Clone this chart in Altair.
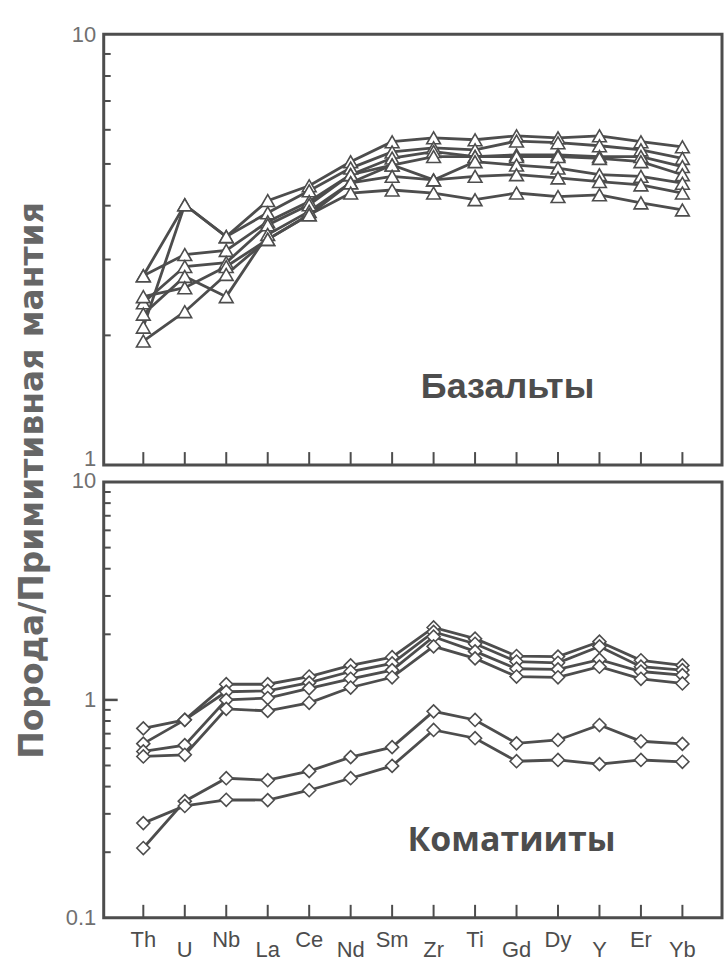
import altair as alt
import pandas as pd

# Trace elements along the x axis (primitive-mantle normalised spider diagram)
elements = ["Th", "U", "Nb", "La", "Ce", "Nd", "Sm", "Zr", "Ti", "Gd", "Dy", "Y", "Er", "Yb"]
low_labels = elements[1::2]  # every second label sits lower

# Basalts (upper panel)
basalt_a = [2.75, 4.02, 3.39, 4.11, 4.45, 5.06, 5.63, 5.75, 5.69, 5.81, 5.75, 5.81, 5.63, 5.48]
basalt_b = [2.09, 4.02, 3.39, 3.85, 4.33, 4.89, 5.33, 5.45, 5.39, 5.65, 5.60, 5.51, 5.39, 5.15]
basalt_c = [2.75, 3.08, 3.15, 3.67, 4.09, 4.72, 5.16, 5.34, 5.20, 5.25, 5.25, 5.20, 5.20, 4.93]
basalt_d = [2.38, 2.89, 2.95, 3.61, 4.02, 4.72, 4.97, 5.20, 5.20, 5.20, 5.20, 5.15, 5.06, 4.72]
basalt_e = [2.24, 2.74, 2.46, 3.43, 3.88, 4.52, 4.97, 4.59, 5.06, 4.97, 4.89, 4.72, 4.68, 4.51]
basalt_f = [2.46, 2.58, 2.89, 3.34, 3.81, 4.52, 4.68, 4.59, 4.68, 4.72, 4.64, 4.55, 4.47, 4.28]
basalt_g = [1.94, 2.27, 2.77, 3.34, 3.81, 4.28, 4.35, 4.28, 4.13, 4.28, 4.20, 4.24, 4.06, 3.91]

# Komatiites (lower panel)
komat_1 = [0.74, 0.81, 1.18, 1.18, 1.28, 1.44, 1.57, 2.15, 1.91, 1.59, 1.58, 1.85, 1.52, 1.44]
komat_2 = [0.63, 0.81, 1.09, 1.10, 1.20, 1.35, 1.47, 2.05, 1.81, 1.50, 1.48, 1.76, 1.42, 1.37]
komat_3 = [0.58, 0.62, 1.00, 1.02, 1.13, 1.25, 1.37, 1.95, 1.67, 1.39, 1.38, 1.53, 1.35, 1.30]
komat_4 = [0.55, 0.56, 0.91, 0.89, 0.97, 1.14, 1.27, 1.76, 1.55, 1.28, 1.27, 1.42, 1.25, 1.19]
komat_5 = [0.209, 0.343, 0.437, 0.428, 0.471, 0.546, 0.607, 0.886, 0.809, 0.632, 0.655, 0.767, 0.646, 0.628]
komat_6 = [0.272, 0.326, 0.348, 0.347, 0.385, 0.437, 0.498, 0.728, 0.667, 0.523, 0.530, 0.507, 0.530, 0.520]

basalts = {"a": basalt_a, "b": basalt_b, "c": basalt_c, "d": basalt_d,
           "e": basalt_e, "f": basalt_f, "g": basalt_g}
komatiites = {"1": komat_1, "2": komat_2, "3": komat_3,
              "4": komat_4, "5": komat_5, "6": komat_6}

top_minor = [2, 3, 4, 5, 6, 7, 8, 9]
bottom_minor = [0.2, 0.3, 0.4, 0.5, 0.6, 0.7, 0.8, 0.9, 2, 3, 4, 5, 6, 7, 8, 9]
bottom_major = [1]

W = 620
H_TOP = 432
H_BOT = 437
INK = "#4d4d4d"
LABEL = "#707070"


def long_table(series):
    rows = []
    for name, vals in series.items():
        for i, (el, v) in enumerate(zip(elements, vals)):
            rows.append({"sample": name, "el": el, "idx": i, "v": v})
    return pd.DataFrame(rows)


x_scale = alt.Scale(domain=elements, padding=0.91)


def panel(series, domain, shape, size, y_values, label_shift, minor, major, label,
          label_font, label_size, label_x, label_y, height, show_x, y_title):
    df = long_table(series)
    y_axis_kw = dict(values=y_values, format="~g", ticks=False, domain=False, grid=False,
                     labelFont="Liberation Sans", labelFontSize=22, labelColor=LABEL,
                     labelPadding=8, labelOverlap=False, labelOffset=label_shift)
    if y_title:
        y_axis = alt.Axis(title=y_title, titleAngle=270, titleX=-71, titleY=447,
                          titleAlign="center", titleBaseline="middle",
                          titleFont="DejaVu Sans", titleFontSize=33,
                          titleFontWeight="bold", titleColor="#666666", **y_axis_kw)
    else:
        y_axis = alt.Axis(title=None, **y_axis_kw)
    y_scale = alt.Scale(type="log", domain=domain)

    if show_x:
        x_axis = alt.Axis(title=None, ticks=False, domain=False, grid=False, labelAngle=0,
                          labelFont="Liberation Sans", labelFontSize=22, labelColor=INK,
                          labelPadding={"condition": {
                              "test": "indexof(" + str(low_labels) + ", datum.value) >= 0",
                              "value": 22}, "value": 12})
    else:
        x_axis = None

    x_enc = alt.X("el:N", sort=elements, scale=x_scale, axis=x_axis)
    y_enc = alt.Y("v:Q", scale=y_scale, axis=y_axis)

    lines = alt.Chart(df).mark_line(color=INK, strokeWidth=2.8).encode(
        x=x_enc, y=y_enc, detail="sample:N", order="idx:Q")
    points = alt.Chart(df).mark_point(shape=shape, size=size, filled=True, fill="white",
                                      stroke=INK, strokeWidth=1.6, opacity=1).encode(
        x=x_enc, y=y_enc)

    x_ticks = alt.Chart(pd.DataFrame({"el": elements})).mark_rule(
        color=INK, strokeWidth=2).encode(
        x=alt.X("el:N", sort=elements, scale=x_scale, axis=x_axis),
        y=alt.value(height), y2=alt.value(height - 13))
    minor_ticks = alt.Chart(pd.DataFrame({"v": minor})).mark_rule(
        color=INK, strokeWidth=2).encode(
        y=alt.Y("v:Q", scale=y_scale, axis=y_axis), x=alt.value(0), x2=alt.value(7))
    layers = [x_ticks, minor_ticks]
    if major:
        major_ticks = alt.Chart(pd.DataFrame({"v": major})).mark_rule(
            color=INK, strokeWidth=2.5).encode(
            y=alt.Y("v:Q", scale=y_scale, axis=y_axis), x=alt.value(0), x2=alt.value(14))
        layers.append(major_ticks)

    text = alt.Chart(pd.DataFrame({"label": [label]})).mark_text(
        font=label_font, fontSize=label_size, fontWeight="bold", color=INK,
        align="center", baseline="middle").encode(
        text="label:N", x=alt.value(label_x), y=alt.value(label_y))

    return alt.layer(*layers, lines, points, text).properties(width=W, height=height)


# Decade labels next to the gap between panels are nudged apart
top_shift = {"condition": {"test": "datum.value == 1", "value": -7}, "value": 0}
bottom_shift = {"condition": {"test": "datum.value == 10", "value": -1}, "value": 0}

top = panel(basalts, [1, 10], "triangle-up", 190, [1, 10], top_shift, top_minor, None,
            "Базальты", "Liberation Sans", 36, 405, 354, H_TOP, False,
            "Порода/Примитивная мантия")
bottom = panel(komatiites, [0.1, 10], "diamond", 170, [0.1, 1, 10], bottom_shift,
               bottom_minor, bottom_major, "Коматииты", "Open Sans", 34, 409, 360,
               H_BOT, True, None)

chart = alt.vconcat(top, bottom, spacing=17, bounds="flush").properties(
    padding={"left": 15, "top": 20, "right": 0, "bottom": 5},
    background="white",
).configure_view(stroke=INK, strokeWidth=3)

chart.save("out.html", embed_options={"renderer": "svg", "actions": False})
